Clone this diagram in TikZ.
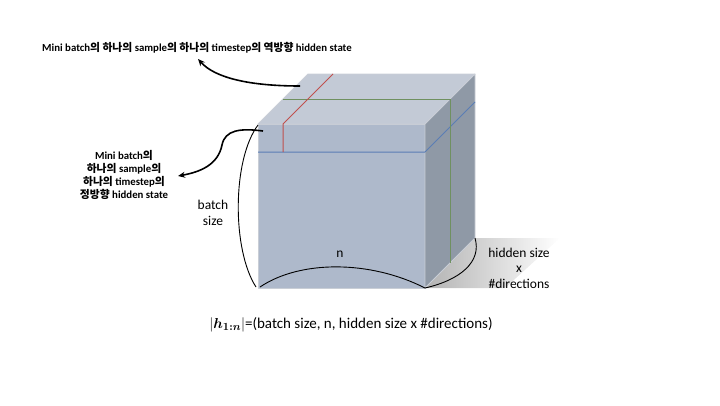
\documentclass[tikz,border=0pt]{standalone}
\usepackage[no-math]{fontspec}
\setmainfont{Carlito}
\newfontfamily\kr{Noto Sans CJK KR}
\usepackage{bm}
\usetikzlibrary{arrows.meta}
\definecolor{topc}{HTML}{C3CAD6}
\definecolor{frontc}{HTML}{AEB9CB}
\definecolor{sidec}{HTML}{8F99A6}
\definecolor{edgec}{HTML}{C9CED6}
\definecolor{redl}{HTML}{C0504D}
\definecolor{greenl}{HTML}{6F9060}
\definecolor{bluel}{HTML}{5A7DB5}
\tikzset{
  face/.style={draw=edgec, line width=0.8pt, line join=round},
  brace/.style={draw=black, line width=0.9pt},
  callout/.style={draw=black, line width=1.6pt, -{Stealth[length=7pt,width=6pt]}},
  lbl/.style={font=\fontsize{13.5}{15.5}\selectfont, align=center, inner sep=0pt},
  annot/.style={font=\bfseries\fontsize{10.8}{13}\selectfont, align=center, inner sep=0pt}
}
\begin{document}
\begin{tikzpicture}[x=1pt,y=-1pt]
\useasboundingbox (0,0) rectangle (720,405);
% corners
\coordinate (FTL) at (258,124);
\coordinate (FTR) at (425,124);
\coordinate (FBL) at (258,288);
\coordinate (FBR) at (425,288);
\coordinate (BTL) at (308,74);
\coordinate (BTR) at (475,74);
\coordinate (BBR) at (475,238);
% shadow
\shade[left color=black!30, right color=white, shading angle=90]
  (FBR) -- (BBR) -- (560,238) -- (505,288) -- cycle;
% faces
\path[face, fill=frontc] (FTL) -- (FTR) -- (FBR) -- (FBL) -- cycle;
\path[face, fill=topc] (FTL) -- (BTL) -- (BTR) -- (FTR) -- cycle;
\path[face, fill=sidec] (FTR) -- (BTR) -- (BBR) -- (FBR) -- cycle;
% slice lines
\coordinate (B1) at (258,152); \coordinate (B2) at (425,152); \coordinate (B3) at (475,102);
\coordinate (G1) at (283,99); \coordinate (G2) at (450,99); \coordinate (G3) at (450,263);
\coordinate (R1) at (283,152); \coordinate (R2) at (283,124); \coordinate (R3) at (333,74);
\draw[bluel, line width=1pt] (B1) -- (B2) -- (B3);
\draw[greenl, line width=1pt] (G1) -- (G2) -- (G3);
\draw[redl, line width=1pt] (R1) -- (R2) -- (R3);
% braces
\draw[brace] (258,125) .. controls (232,160) and (232,250) .. (256,287);
\draw[brace] (260,287) .. controls (300,260) and (370,260) .. (FBR);
\draw[brace] (FBR) .. controls (460,280) and (482,262) .. (BBR);
% labels
\node[lbl] (batch) at (213,213) {batch\\size};
\node[lbl] (n) at (340,254) {n};
\node[lbl] (hid) at (519,268) {hidden size\\x\\\#directions};
\node[annot] (top) at (197,48) {Mini batch{\kr 의} {\kr 하나의} sample{\kr 의} {\kr 하나의} timestep{\kr 의} {\kr 역방향} hidden state};
\node[annot] (left) at (124,175) {Mini batch{\kr 의}\\{\kr 하나의} sample{\kr 의}\\{\kr 하나의} timestep{\kr 의}\\{\kr 정방향} hidden state};
\node[font=\fontsize{15}{17}\selectfont, inner sep=0pt] (formula) at (351,325) {$|\bm{h}_{\bm{1:n}}|$=(batch size, n, hidden size x \#directions)};
% callouts
\coordinate (t1) at (300,86);
\coordinate (t2) at (198,59);
\coordinate (l1) at (263,131);
\coordinate (l2) at (178,176);
\draw[callout] (t1) .. controls (250,86) and (215,78) .. (t2);
\draw[callout] (l1) .. controls (240,128) and (225,130) .. (222,145) .. controls (218,165) and (200,172) .. (l2);
\end{tikzpicture}
\end{document}
